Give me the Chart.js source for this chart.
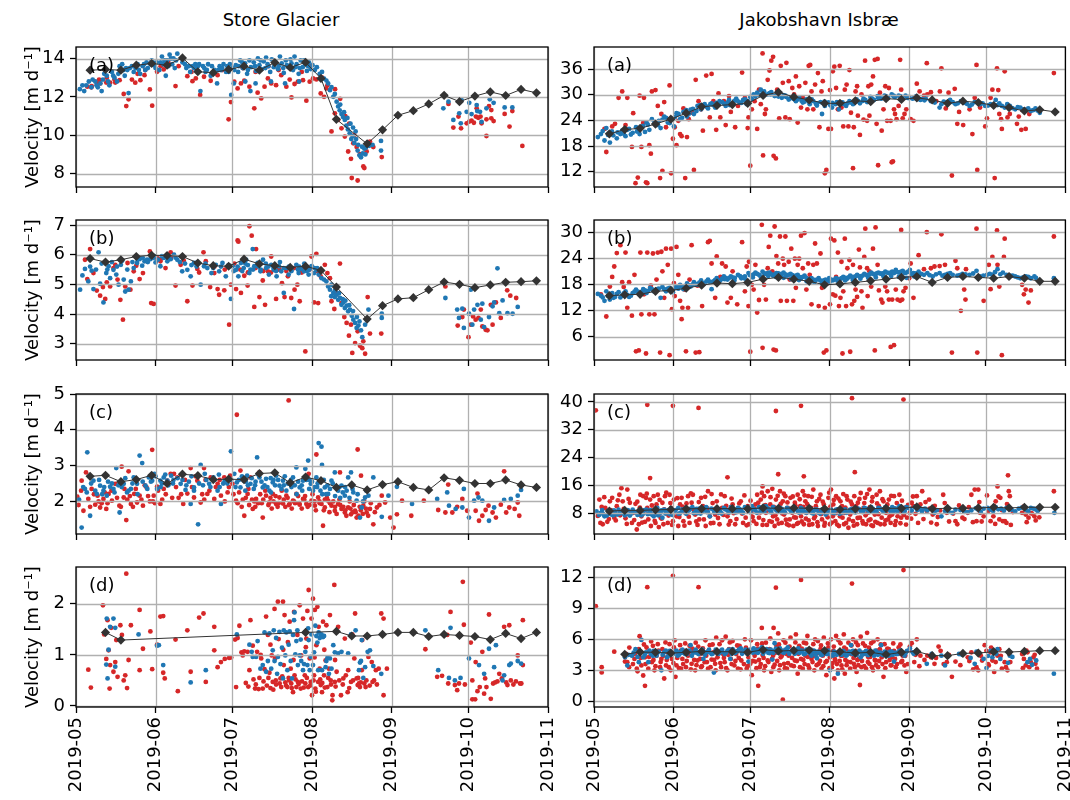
<!DOCTYPE html>
<html>
<head>
<meta charset="utf-8">
<script src="https://cdn.jsdelivr.net/npm/chart.js@4.4.1/dist/chart.umd.min.js"></script>
<style>
  body { margin: 0; background: #fff; width: 1070px; height: 800px; position: relative; overflow: hidden; font-family: "DejaVu Sans", sans-serif; }
  canvas { position: absolute; }
  .title { position: absolute; top: 9px; font-size: 18px; color: #000; transform: translateX(-50%); white-space: nowrap; }
</style>
</head>
<body>
<div class="title" style="left:281px">Store Glacier</div>
<div class="title" style="left:819px">Jakobshavn Isbræ</div>
<script>
// x axis: days since 2019-05-01
const monthTicks = [0, 31, 61, 92, 123, 153, 184];
const monthLabels = ['2019-05', '2019-06', '2019-07', '2019-08', '2019-09', '2019-10', '2019-11'];

// ---- Store Glacier ----
const storeMeanDaysA = [5.5,11.5,17.5,23.5,29.5,35.5,41.5,47.5,53.5,59.5,65.5,71.5,77.5,83.5,89.5,95.5,101.5,113.5,119.5,125.5,131.5,137.5,143.5,149.5,155.5,161.5,167.5,173.5,179.5];
const storeMeanA = [13.39,13.43,13.39,13.65,13.74,13.65,14.03,13.31,13.26,13.43,13.6,13.39,13.79,13.53,13.8,12.96,10.83,9.55,10.28,11.04,11.28,11.63,12.08,11.75,12.04,12.26,12.07,12.39,12.21];
const storeMeanB = [5.87,5.75,5.83,5.94,5.98,5.97,5.94,5.72,5.63,5.61,5.85,5.69,5.63,5.57,5.61,5.47,4.91,3.83,4.28,4.51,4.55,4.82,5.08,5.0,4.89,4.98,5.07,5.09,5.12];
const storeMeanDaysC = [5.5,11.5,17.5,23.5,29.5,35.5,41.5,47.5,53.5,59.5,65.5,71.5,77.5,83.5,89.5,95.5,101.5,107.5,113.5,119.5,125.5,131.5,137.5,143.5,149.5,155.5,161.5,167.5,173.5,179.5];
const storeMeanC = [2.70,2.73,2.55,2.61,2.73,2.50,2.76,2.72,2.61,2.62,2.61,2.78,2.80,2.52,2.68,2.58,2.39,2.46,2.32,2.47,2.55,2.39,2.32,2.66,2.59,2.50,2.50,2.60,2.46,2.39];
const storeMeanDaysD = [11.5,17.5,89.5,101.5,107.5,113.5,119.5,125.5,131.5,137.5,143.5,149.5,155.5,161.5,167.5,173.5,179.5];
const storeMeanD = [1.44,1.29,1.44,1.46,1.37,1.37,1.40,1.44,1.44,1.36,1.40,1.38,1.36,1.30,1.42,1.32,1.44];

const storeBlueA = [[1.5,12.4],[4,12.6],[5,12.8],[6,12.5],[7.5,12.8],[8.5,12.5],[9.5,12.7],[10,12.3],[11,13.2],[12,13.1],[13,12.6],[14,13.3],[15,13.0],[16,12.8],[17,13.6],[18,13.7],[19,13.1],[20,13.4],[20.5,12.2],[21,13.5],[22.5,13.3],[24,13.7],[25,13.2],[26,13.6],[27,13.4],[27.5,13.8],[29,13.7],[29.5,13.9],[30.5,13.65],[31.5,13.8],[32.5,13.4],[33.5,14.1],[34,13.7],[35,13.1],[35.5,13.9],[36.5,14.2],[37.5,13.7],[38,14.0],[38.5,13.5],[39.5,14.25],[42.5,13.7],[43,13.5],[44.5,13.3],[45.5,13.6],[46.5,13.7],[47,13.4],[48.5,12.3],[48,13.7],[49.5,13.6],[50.5,13.3],[51.5,13.7],[52.5,13.1],[54,13.4],[55,12.7],[56,13.6],[56.5,13.4],[57.5,13.7],[58.5,13.3],[60,13.7],[60.5,12.1],[61.5,12.7],[61.7,13.4],
  [2.5,12.6],[3.2,12.3],[6.5,12.9],[8,12.6],[10.5,12.9],[12.5,12.8],[14.5,13.1],[16.5,13.2],[18.5,13.4],[19.5,13.5],[21.8,13.6],[23.2,13.5],[24.5,13.4],[26.5,13.7],[28,13.5],[30,13.8],[31,13.5],[33,13.8],[34.5,13.9],[36,13.6],[37,14.0],[39,13.9],[41.5,13.8],[44,13.6],[46,13.5],[47.5,13.6],[50,13.5],[51,13.4],[53,13.6],[55.5,13.4],[57,13.5],[59,13.6],[59.5,13.3],[61,13.5],
  [62.3,13.65],[63.2,13.3],[64,13.9],[65,13.5],[65.9,13.75],[66.7,13.2],[67.6,13.9],[68.2,13.55],[69.3,13.8],[70.2,13.35],[70.9,14.0],[71.5,13.65],[72.4,13.45],[73.2,13.85],[74.1,14.05],[74.7,13.7],[75.7,13.3],[76.3,13.95],[77.1,13.55],[77.9,13.8],[78.7,13.45],[79.5,14.1],[80.2,13.75],[81,13.25],[81.8,13.9],[82.8,13.55],[83.6,13.95],[84.6,13.4],[85.2,14.1],[86,13.7],[86.8,13.2],[87.6,13.9],[88.4,13.55],[89.2,13.75],[90,13.35],[90.8,13.8],[91.5,13.45],[68,12.3],[70,12.7],[66,12.8],[76,12.8],[81.5,12.7],[87,12.8],
  [63.5,13.6],[64.8,13.8],[67,13.4],[69.8,13.6],[72,13.9],[73.8,13.5],[75,13.6],[77.5,13.75],[79,13.6],[80.8,13.5],[82.2,13.65],[84,13.75],[85.6,13.55],[87.2,13.5],[88.9,13.9],[90.5,13.6],
  [92.2,13.65],[93.1,13.4],[93.9,13.55],[95,13.2],[95.9,13.3],[96.7,12.95],[97.6,12.85],[98.3,12.7],[99,12.35],[99.6,12.5],[100.3,12.0],[100.9,12.15],
  [101.6,11.75],[102.2,11.5],[102.8,11.3],[103.5,11.1],[104.1,10.95],[104.8,10.8],[105.4,10.5],[106,10.3],[106.7,10.1],[107.3,9.8],[107.9,9.95],[108.5,9.6],[109.2,9.8],[109.8,9.2],[110.5,8.95],[111.1,8.85],[111.8,9.05],[112.4,9.3],[113,9.35],[113.6,9.6],[114.3,9.45],[115.6,9.5],[118.9,9.7],[118.9,9.2],
  [103,11.6],[104.5,11.2],[105.8,10.9],[107,10.6],[108,10.4],[109,10.2],[110,9.5],[111.5,9.4],[112.8,9.0],
  [143.2,11.4],[145.2,11.75],[147.1,10.8],[149.4,11.14],[150,10.62],[150.3,11.83],[152.3,11.22],[153.3,11.69],[154.2,11.1],[156.2,11.57],[156.4,11.26],[157.5,11.22],[158.1,10.7],[160,11.4],[161.3,11.87],[162.8,11.69],[167.1,11.45],[170.1,11.45]];

const storeRedA = [[4.4,12.53],[6.1,12.56],[8.1,12.74],[9.4,12.7],[11.8,12.75],[13.3,12.74],[15.3,12.75],[17,12.87],[18.6,12.15],[19.6,11.52],[20.5,11.87],[21.8,12.9],[23.1,12.74],[25.1,12.87],[26.7,13.13],[28.8,12.39],[29.7,11.54],[31.6,13.31],[34.2,13.43],[38.8,12.56],[43.4,13.08],[45.4,12.82],[46.7,12.96],[49.9,13.05],[48.4,12.1],[52.5,12.84],[55.2,13.13],[59.5,10.83],[60.4,11.73],[61.7,12.79],[63,12.44],[64.3,12.7],[65.6,12.84],[67.6,12.53],[69.5,11.4],[70.8,12.22],[72.2,11.92],[73.5,12.53],[74.8,12.96],[76.1,12.7],[78,12.61],[80,13.13],[82,12.53],[83.3,12.9],[85.2,12.67],[86.5,12.79],[88.5,12.87],[89.8,11.8],[91.1,12.79],[92.4,12.96],[93.7,12.91],[95.4,12.18],[96.7,12.0],[97.6,12.44],[99.6,10.2],[100.9,11.14],[102.2,10.8],[103.5,10.36],[104.8,9.93],[106.1,9.15],[107.2,8.77],[108.1,9.58],[109.4,9.38],[110.7,9.01],[112,8.37],[112.4,8.29],[113.3,9.15],[114.6,9.67],[115.9,9.38],[119.2,8.86],[107.5,7.77],[109.8,7.64],[84,11.97],
  [65,13.5],[70,13.3],[75,13.6],[79,13.4],[84,13.5],[88,13.3],[91,13.6],[96,13.0],[98,12.6],[101,12.4],[103,11.9],[105,11.0],[106.5,10.6],[108.5,10.0],[57,13.4],[53,13.2],[45,13.3],[40,13.6],[36,13.8],[33,13.6],[24,13.2],[27,13.4],[12,13.0],[15,12.9],[9,12.9],[6,12.5],
  [145.2,11.63],[147.1,10.4],[149.1,10.97],[150.1,10.36],[152.3,10.62],[153.3,10.71],[154.2,10.76],[155.1,10.65],[155.9,10.97],[156.2,11.4],[156.8,10.91],[157.7,10.97],[158.1,10.62],[160,9.96],[160,10.83],[161,11.52],[161.9,11.31],[161.9,10.88],[162.8,10.74],[167.1,11.11],[169,10.45],[170.1,11.26],[174,9.44]];

const storeBlueB = [[1.6,4.82],[3.5,5.52],[4.8,5.1],[6.1,5.46],[6.8,4.84],[8.8,6.08],[9.4,5.02],[10.7,4.39],[11.8,5.38],[12.7,5.61],[13.3,5.21],[14.6,5.49],[15.7,5.33],[16.6,4.99],[17.5,5.66],[18.6,5.16],[19.2,4.76],[20.5,4.82],[21.4,5.1],[22.5,5.55],[23.8,5.72],[24.8,5.85],[25.8,5.63],[26.7,5.78],[27.7,5.83],[29,5.85],[30.1,5.89],[31,5.74],[31.9,5.83],[32.9,5.61],[34.2,5.89],[35.6,5.78],[36.9,5.85],[38.2,6.0],[39.5,5.83],[41.4,5.44],[43.4,5.49],[44.7,5.27],[46,5.72],[47.3,5.74],[48.6,4.99],[49.9,5.61],[51.2,5.55],[52.8,5.38],[54.5,5.66],[55.8,5.44],[57.1,5.72],[58.4,5.27],[60.4,4.51],[61,5.61],[62.4,5.49],[63.3,5.27],[64.3,5.72],[65.4,5.55],[66.3,5.83],[67.6,5.38],[68.9,6.19],[69.5,5.61],[70.8,5.72],[71.9,5.44],[72.9,5.83],[74.1,5.55],[75.2,5.33],[76.1,5.66],[77.1,5.49],[78.2,5.27],[79.1,5.61],[80,5.44],[81,4.71],[82,5.55],[82.9,5.33],[83.9,5.47],[85,4.17],[85.9,5.66],[86.8,5.38],[87.8,5.52],[88.9,5.44],[89.8,5.55],[90.7,5.33],[91.8,5.61],[92.8,5.38],[93.7,5.49],[94.6,5.33],[95.7,5.21],[96.7,5.16],[97.6,5.1],[98.3,4.93],[99,4.82],[99.6,4.99],[100.3,4.71],[100.9,4.57],[101.6,4.65],[102.2,4.48],[102.9,4.54],[103.5,4.31],[104.2,4.39],[104.8,4.2],[105.5,4.28],[106.1,4.09],[106.8,4.15],[107.5,3.94],[108.1,3.81],[108.8,3.7],[109.4,3.53],[110.1,3.61],[111.1,3.45],[111.6,3.22],[112.7,3.64],[113.3,3.81],[114,4.15],[119.2,4.01],[119.2,3.87],
  [63,5.6],[66,5.7],[68,5.5],[71,5.6],[74,5.7],[77,5.55],[79.5,5.75],[83,5.6],[86.5,5.5],[89,5.7],[91,5.5],[93,5.55],[99.5,4.6],[101,4.8],[102.5,4.7],[104,4.5],[105,4.45],[106.5,4.3],[108,4.1],[109.5,3.9],[110.5,3.75],
  [2.5,5.3],[5.5,5.6],[7.8,5.5],[10,5.7],[12.2,5.5],[14,5.75],[16,5.6],[18,5.8],[20,5.5],[22,5.75],[24,5.85],[26,5.9],[28,5.75],[30.5,5.95],[33.5,5.95],[36,5.85],[38.8,5.9],[40.5,5.75],[42.5,5.7],[45,5.65],[47,5.6],[50.5,5.7],[53.5,5.55],[56.5,5.6],[59.5,5.65],[61.5,5.45],[64.8,5.45],[67,5.65],[69,5.5],[72,5.5],[75,5.6],[78,5.45],[81,5.55],[84,5.45],[87,5.6],[90,5.45],[92,5.6],[94,5.55],
  [144,4.54],[148.6,4.15],[149.3,3.87],[150.6,4.18],[151.2,3.53],[153.2,4.01],[153.9,4.82],[154.5,3.64],[155.2,4.15],[156.5,4.31],[157.8,3.81],[158.4,4.35],[159.1,3.56],[161,3.9],[162.4,4.26],[163,4.39],[164.3,5.54],[165,4.03],[166.3,4.46],[168.2,4.03],[170.2,4.01],[172.2,4.24]];

const storeRedB = [[3.5,5.83],[4.4,5.18],[5.5,6.19],[6.8,5.38],[8.1,4.79],[9.4,4.62],[10.5,4.91],[11.4,4.51],[12,5.07],[13.3,4.93],[14.6,5.55],[15.3,5.66],[16.2,5.16],[17.3,4.48],[18.3,3.81],[19.2,4.93],[20.1,5.72],[21.2,4.82],[22.5,5.44],[23.5,5.63],[24.8,5.18],[26.1,5.38],[27.7,5.78],[28.8,6.11],[29.3,4.37],[30.3,4.34],[31.6,5.89],[32.9,5.78],[34.9,5.55],[36.9,6.08],[38.8,4.96],[40.8,5.66],[43.4,4.43],[45.4,4.96],[47.3,5.52],[49.7,6.08],[50.6,5.78],[52.3,4.91],[53.9,5.38],[55.2,4.84],[55.8,4.65],[57.8,4.8],[59.7,3.64],[60.4,4.99],[61.7,5.7],[62.4,4.84],[63,6.48],[63.3,6.44],[64.3,4.71],[65.6,5.29],[66.9,4.96],[67.6,6.96],[68.5,6.64],[69.5,4.24],[70.2,6.19],[71.5,4.57],[72.8,5.13],[73.7,4.31],[74.8,5.44],[76.1,5.94],[78,4.51],[79.3,5.55],[80.3,5.04],[81.3,4.57],[82.6,5.27],[83.9,4.54],[85.2,4.82],[86.3,4.99],[87.2,4.43],[88.5,5.49],[89.4,2.74],[90.5,5.52],[91.8,5.94],[92.8,4.39],[93.7,6.03],[94.4,4.37],[95.4,5.27],[97,5.66],[98,5.38],[99,5.21],[99.6,4.43],[100.7,4.17],[101.6,4.71],[102.9,5.7],[103.5,4.37],[104.6,3.9],[105.5,3.7],[106.4,3.27],[107.2,3.64],[107.7,2.69],[108.8,3.02],[109.8,3.42],[110.7,2.93],[111.6,2.85],[112.7,2.66],[113.7,4.57],[114.6,3.34],[119,3.34],[112,3.08],
  [64,5.5],[67,5.4],[70,5.55],[73,5.45],[76,5.4],[79,5.5],[82,5.45],[85,5.55],[88,5.4],[91,5.5],[94,5.45],[58,5.5],[54,5.6],[48,5.4],[42,5.8],[37,5.9],[33,5.85],
  [144,4.93],[148.8,3.61],[150.6,3.9],[151.2,4.15],[153,3.22],[153.9,3.64],[154.8,3.92],[155.8,3.81],[156.9,3.87],[157.8,4.15],[158.4,3.58],[159.7,3.47],[160.4,3.45],[161.7,4.31],[162.4,3.64],[163.7,4.39],[165.6,3.87],[169.3,4.62],[171.6,4.54],[168.1,4.8]];

const storeBlueC = [[2.2,1.27],[4.4,3.37],[3.5,2.35],[5.5,1.6],[6.8,2.58],[8.1,2.21],[9.4,2.44],[10.7,2.3],[12,2.16],[13.3,2.41],[14.6,2.35],[15.7,2.93],[17,1.69],[18.6,2.49],[19.9,2.25],[21.4,2.35],[22.5,2.67],[23.8,2.49],[24.8,3.28],[25.8,3.07],[27.1,2.44],[28.4,2.67],[29.7,2.58],[30.6,2.77],[31.6,2.35],[32.9,2.58],[34.2,2.67],[35.6,2.58],[37.1,2.72],[40.8,2.49],[42.7,2.32],[44.7,1.93],[46,2.39],[47.6,1.36],[48.6,3.02],[50.2,2.77],[51.9,2.49],[53.6,2.67],[55.2,2.3],[56.5,1.93],[58,2.58],[60.4,3.4],[61.7,2.77],[62.7,2.53],[64.1,2.39],[65.4,2.58],[66.7,2.72],[68,2.49],[69.3,2.35],[70.6,3.23],[71.5,2.67],[72.8,2.39],[74.1,2.63],[75.4,2.3],[76.7,2.53],[78,2.72],[79.3,2.44],[80.7,2.58],[82,2.3],[83.3,2.49],[84.6,2.67],[85.9,2.95],[87.2,2.39],[88.5,2.58],[89.4,2.91],[90.5,3.14],[91.5,2.49],[92.4,2.3],[93.7,2.67],[94.6,3.63],[95.7,3.53],[95.9,3.02],[97,2.39],[98.3,2.21],[99.6,2.58],[100.9,2.81],[102.2,2.3],[103.5,2.44],[104.8,2.16],[106.1,2.67],[107.2,2.81],[108.1,2.25],[109.4,2.02],[110.7,1.55],[111.4,1.83],[112.7,2.11],[114,2.16],[115.9,2.67],[119.2,1.57],[121.8,2.16],[125.1,2.41],[131,1.93],[140.8,2.07],[144.7,2.25],[145.4,1.88],[148,1.79],[150.6,1.83],[151.2,2.35],[153.2,1.55],[155.2,2.02],[156.9,2.11],[158.4,2.02],[161,1.46],[163,1.83],[166.9,2.04],[169.5,2.07],[172.2,2.16],[173.5,2.32],
  [7.5,2.3],[11,2.4],[16.5,2.45],[20.5,2.3],[26,2.55],[33.5,2.5],[38,2.6],[44,2.55],[49.5,2.45],[54,2.6],[59,2.5],[63.5,2.6],[67,2.45],[70,2.55],[73.5,2.45],[77,2.6],[81,2.45],[84,2.4],[88,2.45],[91,2.6],[94,2.4],[98,2.45],[101.5,2.4],[105.5,2.3],[103,2.1],[96,2.2],[86,2.2],[76,2.25],[66,2.3],[56,2.4],[46,2.3],[36,2.45],[14,2.5],
  [1.2,2.05],[2.8,2.4],[4.2,2.25],[5.9,2.5],[9,2.6],[10.2,2.2],[12.5,2.55],[15,2.25],[17.8,2.4],[19.2,2.65],[22,2.5],[24,2.2],[27.8,2.35],[29.2,2.55],[31,2.7],[33,2.4],[34.8,2.75],[37.8,2.5],[39.6,2.65],[41.5,2.6],[43,2.45],[45,2.7],[48,2.5],[50.8,2.6],[52.4,2.4],[55.7,2.75],[57.4,2.5],[60.5,2.6],[62.2,2.4],[64.7,2.7],[66.2,2.55],[68.5,2.65],[69.8,2.45],[71,2.75],[72.3,2.55],[74.6,2.4],[75.9,2.65],[77.6,2.45],[78.8,2.6],[80.1,2.35],[81.4,2.7],[82.6,2.5],[83.8,2.6],[85.3,2.45],[86.6,2.55],[88.2,2.3],[89.8,2.6],[90.9,2.35],[92,2.55],[93,2.4],[94.2,2.5],[95.3,2.3],[96.6,2.6],[97.5,2.2],[99,2.35],[100.1,2.5],[101,2.15],[102.7,2.4],[104,2.25],[104.9,2.4],[106.6,2.1],[107.8,2.35],[109.8,2.2],[111.9,2.0],[113.2,2.3]];

const storeRedC = [[0.5,2.13],[2.2,2.58],[2.9,1.74],[3.9,2.81],[4.8,2.07],[6.1,2.35],[7.5,1.91],[8.4,2.16],[9.4,1.83],[10.7,2.07],[11.8,1.79],[12.7,2.21],[14,2.02],[15.3,2.49],[16.9,1.88],[17.8,2.97],[18.6,2.11],[19.6,1.48],[20.5,2.84],[21.4,1.93],[22.7,2.21],[23.8,1.97],[24.8,2.16],[26.1,1.88],[27.5,2.39],[28.8,2],[29.7,3.44],[30.3,2.16],[31.6,2.41],[32.9,1.93],[34.2,2.35],[35.6,2.58],[36.9,2.77],[38.2,2.77],[39.5,2.67],[41.8,1.93],[43.4,2.22],[44.7,2.93],[46,2.11],[47.3,2.58],[48.6,1.97],[49.9,2.93],[51.2,2.21],[52.5,2.67],[53.9,2.07],[55.2,2.49],[56.5,2.16],[57.8,2.67],[59.1,2.25],[60.1,2.72],[61,2.49],[62.7,4.42],[62.4,2.02],[64.1,2.86],[65.6,1.6],[66.9,2.21],[68,2.67],[68.9,1.79],[70.2,2.07],[71.5,2.81],[72.8,1.55],[74.1,2.16],[75.4,1.97],[76.7,2.21],[78,1.93],[79.3,2.11],[80.7,1.94],[82,2.16],[82.9,4.82],[83.3,1.93],[84.6,2.02],[85.9,2.21],[87.2,1.91],[88.5,2.07],[89.8,1.93],[90.7,2.77],[91.8,2.02],[93.1,1.88],[93.7,3.31],[94.4,2.11],[95.7,1.93],[96.3,1.32],[97,1.83],[98.3,2.02],[99.6,1.88],[100.9,1.74],[102.2,1.93],[102.9,2.81],[103.5,1.79],[104.8,1.69],[106.1,1.83],[107.2,1.64],[108.8,1.74],[109.8,3.45],[110.1,1.6],[111.1,2.72],[112,1.88],[113.3,1.69],[114.6,1.79],[115.9,1.36],[117.3,1.83],[119.2,2.16],[120.5,1.97],[122.5,1.55],[123.8,1.27],[125.1,1.64],[127.1,2.02],[130.7,1.6],[135.6,2.02],[141.2,1.76],[144,1.69],[145.1,2.47],[146.7,1.69],[148.6,1.85],[150.6,2.07],[152.5,1.74],[155.8,1.74],[156.5,2.22],[157.1,1.46],[158.4,1.6],[159.7,1.76],[160.8,1.88],[162.4,1.69],[163.7,1.55],[165.6,1.91],[166.9,2.84],[167.7,1.69],[168.9,1.83],[171,1.79],[172.2,1.97],[172.8,1.6],
  [63,1.95],[65,2.05],[67.5,1.9],[69.5,2.0],[71,1.95],[73,2.05],[75,1.9],[77,2.0],[79,1.95],[81,2.05],[83,1.9],[85,2.0],[87,1.95],[89,2.05],[91,1.9],[93,2.0],[95,1.95],[97,2.05],[99,1.95],[101,1.85],[103,1.9],[105,1.75],[107,1.8],[109,1.7],[111,1.75],[113,1.8],[10,1.95],[20,2.05],[30,2.0],[40,2.1],[50,2.05],[58,2.0],
  [1,1.9],[2,2.3],[5.5,1.85],[7,2.2],[8.8,2.0],[11.2,2.25],[12.3,1.95],[13.8,2.3],[16,2.1],[17.5,1.85],[18.9,2.35],[21,2.15],[22.2,1.85],[23.3,2.35],[25.5,2.05],[26.8,2.45],[28.1,2.15],[30.8,1.95],[32,2.3],[33.6,2.05],[35,2.2],[37.5,2.1],[39,2.4],[41,2.2],[42.5,2.6],[45.2,2.4],[46.6,2.7],[49.2,2.2],[50.5,2.6],[52,2.3],[54.5,2.4],[56,2.6],[59.6,2.4],[61.4,2.2],[63.6,2.25],[64.6,1.85],[66.2,2.1],[67.2,2.35],[68.6,2.05],[69.9,1.85],[71.8,2.2],[72.4,1.95],[73.8,2.3],[75.8,2.1],[76.3,1.8],[77.8,2.15],[78.6,1.85],[80.2,2.3],[81.6,1.85],[82.5,2.1],[84.1,1.8],[85.4,1.95],[86.6,2.15],[88,1.8],[89.3,2.15],[90.3,1.85],[92.2,2.2],[93.5,1.75],[94.9,2.0],[96.6,1.75],[97.8,2.1],[98.8,1.7],[100.3,2.0],[101.6,1.65],[102.7,2.05],[104.2,1.85],[105.4,1.6],[106.7,2.0],[107.8,1.7],[108.3,1.9],[109.4,1.55],[110.6,1.85],[111.8,1.65],[112.4,2.0],[113.9,1.6],[114.9,1.95],[116.5,1.7],[118.3,1.9]];

const storeBlueD = [[11.8,0.81],[12,1.71],[12.7,1.1],[12.3,0.54],[13.3,1.55],[14.6,1.71],[15.3,0.77],[15.3,1.53],[24.4,1.4],[31.6,1.18],[32.3,1.19],[34,0.8],[44.7,0.46],[50.6,0.7],[62.7,1.4],[67.6,1.2],[68.5,1.06],[68.9,0.96],[70.2,0.96],[70.8,1.27],[71.9,0.73],[72.8,0.8],[73.5,1.44],[74.1,0.67],[74.8,0.88],[75.4,1.42],[76.1,0.73],[76.7,1.09],[77.1,1.48],[77.4,0.88],[78,1.33],[78.4,0.63],[78.7,0.96],[79.3,1.45],[79.7,0.82],[80.3,1.14],[80.7,0.54],[81,1.48],[81.6,0.99],[82,1.44],[82.4,0.7],[82.9,1.2],[83.3,1.46],[83.7,0.88],[84.2,0.54],[84.6,1.39],[85,1.68],[85.2,1.83],[85.5,1.01],[85.9,1.27],[86.3,1.48],[86.5,0.8],[87.2,0.99],[87.6,1.3],[87.8,0.88],[88.5,0.7],[88.9,0.82],[89.2,1.44],[89.4,1.06],[90.2,0.8],[90.5,1.52],[90.7,1.29],[91.1,0.7],[91.5,0.96],[91.8,1.4],[92.4,0.8],[92.8,1.05],[93.3,1.57],[93.7,1.37],[94.1,1.24],[94.4,0.7],[94.6,1.44],[95,1.33],[95.4,1.39],[95.7,1.4],[95.9,0.7],[96.3,1.35],[96.7,1.37],[97.3,0.76],[97.6,0.88],[98,0.94],[98.6,0.63],[99,0.93],[99.6,0.73],[100.3,1.19],[100.9,1.05],[102.2,1.03],[103.5,1.06],[106.1,1.03],[107.2,1.4],[109,1.48],[110.3,0.7],[110.7,0.85],[111.1,0.88],[111.4,1.29],[112,0.55],[112.7,0.76],[113.7,1.06],[114.6,1.09],[115.9,0.78],[119,0.63],[136.2,1.48],[141.2,0.7],[145.4,0.55],[146,1.53],[147.7,0.5],[149.9,0.55],[153.2,0.93],[157.1,0.8],[159.1,0.63],[161,1.12],[163,0.76],[163.7,1.19],[166.3,0.5],[166.9,0.6],[168.9,0.8],[169.5,0.83],[172.2,0.88],[173.5,0.83]];

const storeRedD = [[4.8,0.71],[5.8,0.36],[10.5,1.97],[11,1.40],[11.8,0.92],[12.3,1.68],[12.7,1.09],[13.1,0.34],[13.3,0.8],[13.7,1.53],[14.6,0.67],[15.3,0.86],[15.7,1.29],[16.2,0.57],[17.3,1.58],[17.9,1.39],[18.6,0.5],[19.2,0.6],[19.6,2.59],[19.9,0.35],[20.5,0.9],[21.4,1.58],[24.8,0.7],[24.8,1.88],[26.1,1.12],[29,1.46],[29.7,0.72],[31.6,1.2],[32.9,1.75],[34,0.65],[34.6,0.54],[34,1.76],[38.8,1.3],[39.7,0.29],[43.4,1.48],[44.7,0.67],[48,1.73],[49.7,1.81],[50.6,0.47],[53.9,1.09],[53.9,1.55],[55.2,0.76],[56.5,0.86],[58,0.92],[59.7,0.94],[62.4,0.37],[63,1.33],[63.7,1.57],[65,0.99],[65.6,1.07],[66.9,1.06],[67.6,0.7],[68,1.68],[68.9,1.18],[69.8,0.34],[70.6,1.06],[71.5,0.55],[72.2,0.93],[72.8,0.34],[73.5,0.72],[74.1,1.75],[74.8,1.39],[75.4,0.65],[75.8,0.35],[76.3,0.99],[76.7,0.47],[77.4,1.9],[77.6,0.93],[78,0.42],[78.7,2.04],[79,1.31],[79.7,0.54],[80,0.37],[80.7,2.04],[81,0.8],[81.3,1.78],[81.6,0.46],[82.4,0.37],[82.6,1.25],[82.9,0.55],[83.3,1.65],[83.7,0.73],[83.9,0.44],[84.6,0.27],[85,1.84],[85.2,0.6],[85.9,0.37],[86.3,1.39],[86.5,0.47],[87.2,1.97],[87.6,0.34],[87.8,0.99],[88.5,1.71],[89.2,0.6],[89.4,0.44],[89.8,1.32],[90.2,1.86],[90.5,0.37],[90.7,2.27],[91.1,0.93],[91.5,0.47],[91.8,1.71],[92,0.21],[92.4,2.1],[92.8,0.6],[93.1,1.88],[93.3,0.34],[93.7,1.19],[94.1,1.94],[94.4,0.47],[94.6,1.55],[95,0.73],[95.4,0.41],[95.9,0.27],[96.3,1.65],[96.7,0.6],[97.3,0.89],[97.6,1.58],[98,0.37],[98.6,0.73],[99,1.78],[99.3,0.5],[99.9,0.11],[100,0.21],[100.7,2.37],[100.9,0.47],[101.6,0.67],[102.2,1.55],[103.3,0.21],[104.2,0.54],[104.8,1.32],[105.9,0.27],[106.1,0.7],[107.2,0.47],[107.7,1.4],[108.5,0.93],[108.8,1.81],[109.4,0.54],[109.8,0.41],[110.3,0.44],[110.7,0.37],[111.4,0.7],[111.6,1.29],[112.4,0.44],[112.9,0.37],[114,0.96],[115.3,0.86],[115.6,0.47],[116.9,0.7],[118,0.73],[119,1.81],[119.9,1.71],[119.9,0.21],[121.2,0.73],[136.2,1.11],[140.8,0.57],[142.7,0.59],[144.7,1.39],[145.1,0.44],[146,1.84],[147.7,0.41],[148.6,0.31],[149.3,0.44],[150.8,2.43],[151.2,1.59],[151.6,0.42],[153.9,1.24],[154.5,0.5],[154.5,0.13],[155.6,0.13],[155.8,0.86],[156.5,0.29],[157.4,0.37],[158.4,1.06],[159.1,0.24],[159.5,0.54],[160,0.37],[161,1.79],[161.7,0.14],[162.6,0.44],[163.4,0.46],[164.3,0.48],[165,0.63],[166,0.54],[166.9,1.55],[167.7,0.46],[168.2,0.41],[168.9,1.58],[169.5,0.5],[170.5,0.42],[171.5,0.48],[172.2,0.99],[173.1,0.44],[174.2,1.68],[174.2,0.8],[173.6,0.44],
  [66.2,0.45],[67.2,0.38],[69.2,0.52],[70.1,0.42],[71.2,0.33],[73.1,0.48],[74.4,0.4],[75,0.55],[76.9,0.32],[77.9,0.5],[79.4,0.44],[80.4,0.58],[81.9,0.4],[83.1,0.5],[84.1,0.35],[85.6,0.52],[86.8,0.43],[88.1,0.48],[88.8,0.36],[90,0.55],[91.3,0.4],[92.6,0.5],[93.5,0.28],[95.2,0.52],[96,0.45],[97,0.36],[98.3,0.55],[99.4,0.42],[101.2,0.38],[102.6,0.5],[104,0.42],[105.2,0.6],[106.5,0.35],[108,0.5],[110,0.55],[111,0.46],[113.2,0.5],[114.5,0.4],[116.2,0.5],[117.3,0.42],[72,1.0],[75.8,1.2],[80.8,1.1],[84.8,0.9],[89.6,1.15],[93,0.95],[96.8,1.1],[101,0.9],[64.5,1.05],[62,1.3],[60.5,0.95]];

// ---- Jakobshavn Isbrae ----
const jakMeanDays = [6,12,18,24,30,36,42,48,54,60,66,72,78,84,90,96,102,108,114,120,126,132,138,144,150,156,162,168,174,180];
const jakMeanA = [20.85,21.85,22.15,23.15,24.3,25.7,27.2,27.5,27.7,28.0,29.85,30.6,29.5,28.8,28.0,28.0,28.6,28.4,29.1,28.9,29.3,28.8,28.0,28.5,28.2,27.5,27.0,26.2,26.5,26.0];
const jakMeanB = [15.4,15.6,15.7,16.4,16.6,17.1,17.8,18.3,18.15,18.45,19.2,19.6,19.2,18.7,17.9,18.1,18.45,18.8,19.2,19.6,19.8,18.45,19.6,19.8,19.6,19.4,19.8,19.4,18.7,18.7];
const jakMeanC = [8.6,8.8,8.8,8.95,9.05,9.25,9.3,9.3,9.3,9.25,9.5,9.4,9.5,9.4,9.25,9.05,9.25,9.3,9.4,9.4,9.8,9.3,9.4,9.4,9.5,9.7,9.5,9.7,9.7,9.7];
const jakMeanDaysD = [12,18,24,30,36,42,48,54,60,66,72,78,84,90,96,102,108,114,120,126,132,138,144,150,156,162,168,174,180];
const jakMeanD = [4.55,4.77,4.74,4.67,4.74,4.83,4.8,4.8,4.74,4.99,4.86,4.93,4.96,4.9,4.8,4.67,4.74,4.52,4.74,4.83,4.42,4.42,4.64,4.67,4.8,4.77,4.83,4.9,4.9];

const jakBlueA = [[2.7,20.8],[4.1,19.3],[4.8,22.2],[6.2,18.8],[7.5,20.5],[8.9,19.8],[10.3,20.8],[11,21.6],[12.3,20.3],[13.7,22],[15.1,21.1],[16.4,22.4],[17.8,20.8],[19.2,22.7],[20.5,23.5],[21.6,21.8],[22.6,24.3],[24,22.9],[25.3,23.9],[26,22.2],[27.4,24.9],[28.8,23.5],[30.1,24.5],[31.2,22.6],[32.2,25.7],[33.6,24.3],[34.9,26],[36.3,24.9],[37.7,26.5],[39,25.5],[40.4,27.4],[41.8,26.6],[43.2,27.8],[44.5,26.8],[45.9,28],[47.3,27],[48.6,27.8],[50,28.3],[51.4,27.4],[52.7,28.8],[54.1,28],[55.5,29.1],[56.8,28.2],[58.2,28.8],[59.6,27.8],[61,29.5],[62.3,30.1],[63.7,30.5],[65.1,31.2],[66.4,30.8],[67.8,30.1],[69.2,30.6],[70.5,29.7],[71.9,30.3],[73.3,29.3],[74.7,29.8],[76,28.9],[77.4,29.5],[78.8,28.5],[80.1,29.3],[81.5,28.2],[82.9,28.9],[84.2,27.8],[85.6,28.5],[87,27.5],[88.4,28.3],[89,25.5],[90.1,27.4],[91.5,28.2],[92.9,27],[94.2,27.8],[95.6,26.6],[97,28.2],[98.4,27.4],[99.7,28.5],[101.1,27.8],[102.5,28.9],[103.8,28],[105.2,29.1],[106.6,28.3],[107.9,29.5],[109.3,28.8],[110.7,29.7],[112.1,29.1],[113.4,29.8],[114.8,29.3],[116.2,30.1],[117.5,29.5],[118.9,29.8],[120.3,29.3],[121.6,29.8],[123,29.5],[124.4,29.1],[125.8,29.7],[127.4,28.8],[129.5,29.1],[131.5,28.5],[134.9,27],[135.6,27.8],[137.7,28.2],[139,28.8],[141.1,27.8],[143.2,28.5],[144.5,28.2],[146.6,27.4],[148.6,28.3],[150.7,27.8],[152.7,27.4],[154.8,27.8],[156.8,28.8],[158.2,28],[160.3,27],[162.3,27.4],[164.4,26.6],[166.4,27],[168.5,26.5],[170.5,26.2],[172.3,26.8],[174,25.8],
  [42.5,27.5],[46.5,27.6],[49,28.5],[53,27.6],[56,28.6],[60,28.5],[63,29.6],[66,30.2],[69,30.1],[72,29.6],[75,29.5],[78,29.0],[81,28.6],[84,28.3],[87,28.0],[90,28.4],[93,28.1],[96,27.9],[99,28.0],[102,28.4],[105,28.6],[108,28.9],[111,29.2],[114,29.4],[117,29.6],[120,29.5],[123,29.2],[126,29.0],[129,28.7],
  [1.5,20.1],[3.4,21.5],[5.5,20.6],[7,21.4],[9.2,21.2],[11.6,20.9],[13,21.8],[14.4,20.7],[16.8,21.4],[18.5,22.4],[19.9,21.3],[21,23.0],[23.6,23.6],[25,22.9],[26.7,24.2],[28.1,24.6],[29.6,23.4],[31.6,24.8],[33,25.5],[34.4,24.6],[36,26.4],[37.2,25.6],[38.6,26.7],[40,26.2],[41.3,27.6],[44,27.2],[45.4,27.8],[47.8,28.1],[50.8,27.9],[52.2,28.2],[54.8,28.6],[57.5,28.1],[59,28.9],[61.6,29.0],[64.4,30.0],[65.8,30.4],[68.5,30.4],[71.2,29.9],[74,29.9],[76.7,29.2],[79.4,28.9],[82.2,28.4],[85,28.9],[86.6,27.9],[89.5,28.0],[92.2,27.6],[94.8,28.3],[97.6,27.8],[100.4,28.2],[103.2,28.5],[105.9,28.8],[108.6,29.1],[111.4,29.4],[114.1,29.6],[116.9,29.8],[119.6,29.6],[122.3,29.3],[125,29.3],[128,29.0],[133,28.2],[136.5,28.4],[140,28.3],[142,28.0],[145.5,27.9],[147.5,27.7],[151.7,28.0],[153.8,27.5],[157.5,27.6],[159.2,27.4],[161.3,27.8],[163.3,26.9],[165.4,27.1],[167.4,26.6],[169.5,26.8],[171.4,26.4],[173.1,26.3]];

const jakRedA = [[4.8,16.6],[4.1,22],[7.1,22.6],[8.2,23.2],[9.6,29.3],[11,30.8],[12.3,22.9],[13,29.3],[14.8,17.8],[15.3,25.7],[16.2,9.3],[17.1,10.6],[17.8,29.8],[18.5,17.8],[19.2,23.4],[19.5,29.3],[20.3,9.5],[20.8,9.3],[21.6,18.2],[22.2,16.2],[22.6,30.8],[24,31.1],[24.9,27.4],[25.8,10.5],[26.3,25.5],[26.7,12.2],[27.4,28.3],[28.1,22.4],[28.8,24.3],[29.5,32.2],[30.1,11.6],[30.8,19.7],[31.5,22.4],[32.2,18.2],[32.9,23.9],[33.6,20.8],[34.2,20.3],[34.9,26.8],[35.6,10.5],[36.3,20.1],[37,24.3],[38.4,25.8],[39,12.4],[39.7,33.5],[40.8,28.5],[41.8,26.6],[42.5,21.6],[43.8,34.5],[45.2,24.7],[45.9,34.9],[46.6,28.5],[47.7,21.8],[48.6,30.3],[49.3,24.7],[50.7,28.5],[51.4,22.9],[52.7,29.7],[53.4,26],[55.1,22.4],[56.2,27.4],[57.8,35.2],[58.9,29.3],[60,22.2],[60.3,24.7],[61,13.4],[61.6,26.6],[62.7,28.5],[63.7,22],[64.4,31.2],[65.1,27.8],[65.8,39.7],[66,15.8],[66.7,25.5],[67.1,26.6],[67.8,33.5],[68.5,35.7],[69.2,38],[69.9,38.9],[70.1,15.7],[71,15.1],[71.5,31.2],[72.3,24.5],[72.9,36.8],[73.7,32.8],[74.7,24.7],[75.1,37.5],[76,33.2],[76.4,24.3],[77.4,31.6],[78.1,30.1],[78.8,34.3],[79.5,23.5],[80.1,32],[80.8,27],[81.5,29.3],[82.5,32.8],[83.3,26.6],[83.8,36.8],[84.4,37],[84.9,30.8],[85.6,26.6],[86.3,32.4],[87.4,35.1],[88,22.4],[88.8,30.8],[89.3,33.2],[90.1,11.6],[90.7,12.4],[91.5,22],[92.1,31.1],[92.5,22],[93.2,35.5],[93.8,36.6],[94.5,31.6],[95.2,26.6],[95.9,36.8],[96.6,27],[97.3,22.6],[97.9,31.2],[98.6,32.4],[99.3,22.6],[99.7,35.8],[100.3,25.8],[101.1,12.8],[101.4,22.4],[102.1,30.8],[102.7,32],[103,25.1],[103.8,20.6],[104.4,30.1],[105.2,24.2],[105.8,38],[106.6,23.9],[107.1,32],[107.5,25.1],[108.2,32.4],[108.9,34.3],[109.6,38.2],[110.3,23.2],[110.7,38.4],[110.9,13.5],[111.6,30.5],[112.3,21.6],[113,26.6],[113.7,32],[114.4,23.9],[115.1,31.6],[115.8,23.9],[116.2,14.2],[116.7,14.4],[117.1,26.6],[117.5,25.5],[118.1,24.3],[118.9,27.4],[119.5,38.2],[119.9,31.2],[120.5,24.5],[121.2,25.5],[121.9,26.6],[123.6,24.3],[124.7,23.9],[126,32.6],[127.1,30.8],[128.8,29.8],[129.9,37.4],[130.1,30.1],[131.5,30.6],[133.6,28.5],[135,30.8],[135.6,36.2],[137.3,26.8],[138.4,30.5],[139.7,11.1],[140.8,31.4],[141.8,23.2],[142.5,26],[144.1,22.9],[146.6,26.6],[147.7,20.8],[148.6,29.3],[149.3,37],[149.6,12.4],[150.7,27],[152.7,22.6],[153.4,24.5],[154.8,29.3],[155.5,31.2],[156.4,10.5],[157.3,36.2],[157.8,31.1],[158.2,25.5],[158.9,24.3],[159.2,22],[160.3,35.5],[161.4,24.7],[162.3,25.5],[165.1,23.2],[165.8,24.9],[166.8,21.8],[167.1,26.5],[168.5,22],[169.9,25.5],[179.5,35.1]];

const jakBlueB = [[2.7,15.4],[4.1,14.2],[4.8,16.4],[6.2,14.5],[7.1,16],[8.2,15.1],[9.6,16.2],[11,15.4],[12.3,16.4],[13.7,15.1],[15.1,16],[16.4,16.8],[17.8,15.7],[19.2,16.9],[20.5,16],[21.9,17.2],[23.3,16.4],[24.7,16.9],[26,14.9],[26.7,17.4],[28.1,16.4],[29.5,17.2],[30.8,16.2],[32.2,17.5],[33.6,17.9],[34.9,16.9],[36.3,18.2],[37.7,17.5],[39,18.5],[40.4,17.9],[41.8,18.9],[43.2,18.3],[44.5,19.1],[45.9,16.9],[46.6,18.7],[47.9,19.4],[49.3,18.9],[50.7,19.8],[52.1,19.1],[53.4,19.8],[54.8,18.9],[56.2,20.2],[57.5,19.4],[58.9,19.8],[60.3,20.6],[61.6,20],[63,20.7],[64.4,20.2],[65.8,20.9],[67.1,20.4],[68.5,20.7],[69.9,20],[71.2,20.6],[72.6,20.2],[74,20.7],[75.3,20],[76.7,20.4],[78.1,19.8],[79.5,20.2],[80.8,19.4],[82.2,20],[83.6,19.1],[84.9,19.4],[86.3,18.9],[87.7,19.4],[89,18.7],[90.4,19.1],[91.8,19.4],[93.2,18.9],[94.5,19.4],[95.9,19.1],[97.3,19.7],[98.6,19.2],[100,20],[101.4,19.4],[102.7,20.2],[104.1,19.8],[105.5,20.4],[106.8,20],[108.2,20.7],[109.6,20.2],[111,20.7],[112.3,20.4],[113.7,20.9],[115.1,20.6],[116.4,20.9],[117.8,21.3],[119.2,20.7],[120.5,21.1],[121.9,20.7],[123.3,21.3],[124.7,20.6],[126.7,20.9],[128.8,20.2],[130.1,20.6],[132.2,19.8],[134.9,20.6],[137,20.2],[139,20.6],[141.8,20],[143.8,20.4],[146.6,20.2],[149.3,21.1],[150.7,19.8],[153.4,20.2],[155.5,20.2],[157.5,21.5],[159.6,20.7],[162.3,20],[164.4,19.8],[166.4,19.4],[168.5,19.8],[170.5,19.4],[171.9,19.8],[179.5,19.4],
  [42,18.4],[45,18.6],[48,18.8],[51,19.2],[55,19.5],[59,19.3],[62,19.6],[65,19.8],[68,19.9],[71,19.7],[74,19.5],[77,19.2],[80,19.0],[83,18.7],[86,18.5],[89,18.2],[92,18.6],[95,18.8],[98,18.9],[101,19.0],[104,19.3],[107,19.5],[110,19.6],[113,19.8],[116,19.9],[119,19.7],[122,19.5],[125,19.8],
  [1.5,15.8],[3.4,15.0],[5.5,15.3],[7.6,14.9],[8.9,15.8],[10.3,15.0],[11.6,15.9],[13,15.6],[14.4,15.4],[15.8,16.3],[17.1,16.3],[18.5,16.2],[19.9,16.6],[21.2,16.5],[22.6,16.9],[24,16.6],[25.3,17.0],[27.4,16.9],[28.8,17.0],[30.2,16.8],[31.5,17.2],[32.9,17.0],[34.3,17.5],[35.6,17.6],[37,17.8],[38.4,17.9],[39.7,18.1],[41.1,18.4],[43.9,18.7],[46.2,18.5],[47.3,19.0],[50,19.3],[51.4,19.5],[52.8,19.5],[54.1,19.6],[57,19.9],[58.2,19.6],[60.9,20.1],[62.3,20.3],[63.7,20.4],[66.5,20.5],[67.8,20.6],[69.2,20.3],[70.6,20.3],[72,20.5],[73.3,20.4],[74.7,20.3],[76,20.2],[77.4,20.1],[78.8,20.0],[80.1,19.7],[81.5,19.7],[82.9,19.5],[84.2,19.2],[85.6,19.1],[87,19.1],[88.3,18.9],[89.7,18.9],[91.1,18.9],[92.5,19.1],[93.8,19.1],[95.2,19.2],[96.6,19.4],[98,19.5],[99.3,19.6],[100.7,19.7],[102,19.8],[103.4,19.9],[104.8,20.0],[106.2,20.2],[107.5,20.3],[108.9,20.4],[110.3,20.5],[111.7,20.5],[113,20.6],[114.4,20.7],[115.8,20.7],[117.1,20.6],[118.5,20.8],[119.9,20.9],[121.3,20.6],[122.6,20.9],[124,20.4],[125.7,20.5],[127.7,20.4],[131,20.1],[133.5,20.3],[136,20.0],[138,20.4],[140,20.2],[142.8,20.1],[145,20.3],[148,20.5],[152,20.0],[154.5,20.4],[156.5,20.8],[158.6,20.3],[161,20.2],[163.4,20.0],[165.4,19.6],[167.5,19.6],[169.5,19.7],[172.5,19.5]];

const jakRedB = [[2.7,15.7],[4.8,10.6],[6.2,17.5],[7.1,19.7],[7.9,22.1],[8.9,25.2],[10.3,27],[11,18.5],[11.6,17.4],[12.3,25.3],[13,12.6],[13.7,18.5],[14.8,10.8],[15.8,20.2],[16.4,2.6],[17.5,2.8],[18.1,25.3],[18.5,11.1],[19.5,15.7],[20.3,2.1],[20.8,25.3],[21.6,11.1],[22.2,17.7],[23,25.1],[23.6,11.1],[24.4,19.1],[24.9,25.3],[25.8,2.3],[26.3,25.5],[26.7,21],[27.4,14.9],[28.1,26.2],[28.8,22.5],[29.5,1.7],[30.1,26.2],[30.4,12.3],[31.2,18.3],[31.5,15.3],[32.2,26.6],[32.9,20.2],[33.6,14.2],[34.2,10],[34.5,12.6],[35.3,16.8],[35.9,2.6],[36.7,12.6],[37.3,19.1],[38.1,27],[39.7,2.3],[40.4,17.7],[41.1,2.4],[42.2,13],[44.5,27.7],[45.2,28],[45.9,22.8],[47.3,14.9],[47.9,24.4],[49.3,19.7],[50,22.8],[51.4,22.1],[52.1,13.8],[53.4,14.9],[54.1,21],[55.9,13.4],[57.8,27.7],[58.9,16.4],[59.6,22.1],[60.3,13],[60.5,23.2],[61,2.5],[61.6,17.9],[62.3,16.8],[63,22.5],[63.7,11.5],[64.4,14.4],[65.5,31.7],[65.8,3.4],[66.4,17.9],[67.1,14.5],[67.8,21.7],[68.2,26.6],[68.8,29.2],[69.6,21],[70.1,3],[70.5,31.3],[71,2.8],[71.2,24.5],[71.9,22.8],[72.6,29],[72.9,14.2],[73.7,23.9],[74.2,22.5],[74.7,29],[75.3,14.2],[76,23.2],[76.4,19.1],[77,26.2],[77.8,14.2],[78.4,23.9],[78.8,17.2],[79.5,22.5],[80.1,23.9],[80.8,29.2],[81.5,21.7],[82.2,29.8],[82.9,16.8],[83.6,22.8],[84.2,20.2],[84.9,13.4],[85.6,22.5],[86.3,27.4],[87,22.8],[87.7,13],[88.4,25.1],[89,17.2],[89.7,2.3],[90.1,12.6],[90.7,2.8],[91.5,18.3],[92.1,13.4],[92.5,28.5],[93.2,15.7],[93.8,28.1],[94.2,15.4],[94.5,19.7],[95.2,25.3],[95.6,13],[96.2,14.9],[96.6,23.2],[97,2.1],[97.3,16.4],[97.9,28.5],[98.4,13],[98.9,21.7],[99.7,23.6],[100,2.5],[100.7,13.4],[101.1,22.5],[101.6,14.2],[102.1,16.8],[102.7,15.1],[103.4,26],[103.8,21.9],[104.4,16.4],[104.8,12.6],[105.5,24.3],[105.9,30.8],[106.6,21.7],[106.8,15.3],[107.5,21],[108.2,17.5],[108.9,26.2],[109.6,2.8],[109.9,31.1],[110.7,22.5],[111.2,16.6],[112.1,14.5],[112.6,13.8],[113.7,17.5],[114.4,16.4],[115.1,14.5],[115.8,3.6],[116.4,14.5],[117.1,4],[117.8,16.8],[118.5,14.5],[119.5,14.2],[119.9,30.5],[120.3,14.5],[120.8,16.4],[121.6,17.2],[123,19.4],[123.6,22.8],[124.7,14.9],[126.7,24.7],[128.8,21.5],[129.9,30],[131.5,21.7],[132.9,22.1],[134.9,22.2],[135.6,29.5],[137,22.5],[139.7,2.3],[141.1,23.4],[141.8,21.7],[143.2,11.9],[144.5,16.8],[145,14.5],[145.2,21.5],[149.3,30.8],[149.6,2.3],[152.1,14.2],[154.1,22.5],[154.8,16.9],[155.5,24.3],[157.3,30.4],[157.5,22.5],[158.2,17.5],[159.2,1.7],[160,24.3],[160.3,28.5],[167.1,17.9],[167.8,15.7],[168.5,16.8],[169.6,13.8],[170.5,16.6],[179.5,29]];

const jakBlueC = [[2.7,8.1],[4.1,7.1],[5.5,8.6],[6.8,7.6],[8.2,8.4],[9.6,9],[11,8.1],[12.3,8.6],[13.7,7.6],[15.1,9],[16.4,8.1],[17.8,8.8],[19.2,7.8],[20.5,9],[21.9,8.4],[23.3,7.1],[24.7,9.5],[26,8.1],[26.7,6.7],[27.4,9],[28.8,8.4],[30.1,9.3],[31.5,8.6],[32.9,9.5],[34.2,8.4],[35.6,9.3],[37,8.8],[38.4,9.7],[39.7,8.4],[41.1,9.3],[42.5,8.6],[43.8,9.7],[45.2,7.1],[46.6,9],[47.9,9.5],[49.3,8.4],[50.7,9.5],[52.1,8.8],[53.4,9.7],[54.8,8.6],[56.2,9.5],[57.5,8.8],[58.9,9.7],[60.3,9],[61.6,10],[63,8.8],[64.4,9.7],[65.8,9],[67.1,10],[68.5,9],[69.9,9.7],[71.2,8.8],[72.6,9.5],[74,8.6],[75.3,9.5],[76.7,8.8],[78.1,9.7],[79.5,8.6],[80.8,9.5],[82.2,8.4],[83.6,9.3],[84.9,8.1],[86.3,9],[87.7,8.1],[89,9],[90.4,7.6],[91.8,8.8],[93.2,8.1],[94.5,9],[95.9,7.8],[97.3,8.8],[98.6,8.1],[100,9],[101.4,8.4],[102.7,9.3],[104.1,8.6],[105.5,9.5],[106.8,8.8],[108.2,9.7],[109.6,8.8],[111,9.5],[112.3,9],[113.7,9.7],[115.1,9],[116.4,9.7],[117.8,9.3],[119.2,10],[120.5,9],[121.9,9.7],[123.3,9.3],[125.3,9.7],[127.4,9.3],[130.1,8.8],[132.9,8.1],[135.6,7.1],[138.4,8.4],[141.1,9],[144.5,8.4],[147.3,8.8],[150,9],[152.1,9.3],[154.8,9],[156.8,9.7],[158.9,9.3],[161,9.5],[163,9],[165.8,9.3],[168.5,9],[170.5,9.5],[172.6,9],[174,9.3],[179.7,8.1],
  [3.5,7.8],[7.5,7.4],[10,7.9],[14.5,7.9],[18.5,7.4],[22.6,7.6],[25.3,7.9],[29.5,7.7],[33.5,7.9],[36.3,8.2],[40.4,8.0],[44.5,8.3],[48.6,8.1],[53,8.5],[57,8.4],[61,8.6],[65,8.4],[69,8.5],[73,8.3],[77,8.5],[81,8.4],[85,8.6],[89,8.3],[93,8.6],[97,8.2],[101,8.6],[105,8.5],[109,8.4],[113,8.6],[117,8.5],[121,8.3],
  [1,8.5],[2,7.5],[3.2,8.9],[5,7.3],[6.3,8.2],[7.8,8.8],[9,7.6],[10.6,8.3],[12,7.4],[13.2,8.9],[14,7.3],[15.6,8.4],[17,7.5],[18,8.3],[19.7,8.9],[21,7.7],[22,8.9],[23.8,8.2],[25,7.4],[26.3,8.8],[27.9,7.9],[29,8.9],[30.6,7.5],[31.9,8.9],[33,7.8],[34.6,9.1],[36,7.8],[37.5,9.2],[38.9,8.0],[40,9.2],[41.6,7.9],[43,9.1],[44,8.3],[45.8,9.3],[47,8.2],[48.2,9.2],[49.8,7.9],[51.2,9.1],[52.6,8.1],[54,9.3],[55.4,8.2],[56.8,9.2],[58.2,8.1],[59.6,9.3],[61,8.3],[62.3,9.2],[63.6,8.1],[65,9.5],[66.5,8.4],[67.8,9.4],[69.2,8.2],[70.5,9.3],[71.9,8.4],[73.3,9.2],[74.6,8.2],[76,9.3],[77.4,8.3],[78.8,9.2],[80.1,8.1],[81.5,9.1],[82.9,8.1],[84.2,9.2],[85.6,7.9],[87,9.0],[88.3,7.9],[89.7,8.9],[91.1,8.1],[92.5,9.0],[93.8,8.0],[95.2,9.1],[96.6,8.1],[98,9.1],[99.3,8.3],[100.7,9.2],[102,8.2],[103.4,9.2],[104.8,8.3],[106.2,9.3],[107.5,8.3],[108.9,9.2],[110.3,8.4],[111.7,9.3],[113,8.4],[114.4,9.3],[115.8,8.5],[117.1,9.4],[118.5,8.6],[120,9.4],[121.3,8.6],[122.6,9.5],[124,8.7],[126.2,8.9],[128,8.5],[129.2,9.3],[133.9,8.9],[137,8.6],[139.8,8.1],[143,8.9],[145.8,8.3],[149,9.4],[151,8.3],[153.6,9.5],[155.8,8.6],[157.8,9.1],[160,8.7],[162,9.4],[164.4,8.5],[167,9.6],[169.5,8.5],[171.6,9.3],[173.2,8.6]];

const jakRedC = [[0.7,37.6],[20.8,39.2],[30.8,38.9],[40.8,38.3],[71,37.4],[80.8,38.9],[100.7,41.1],[120.8,40.7],[21.9,18.1],[52.1,18.3],[71.9,19.2],[81.9,18.6],[101.8,19.8],[161.6,18.9],[65.8,15.7],
  [2.1,11.9],[2.5,5.2],[3.4,4.8],[4.4,9.5],[5.2,5.5],[6.2,11.4],[7.1,12.4],[7.9,6.7],[8.9,10],[9.9,13.3],[10.7,15.2],[11.2,11.4],[12.3,6.5],[13,14.8],[14,11],[14.8,5.2],[15.3,8.1],[16.2,10.7],[16.7,3.3],[17.5,4.8],[18.1,13.3],[18.5,7.1],[19.2,12.9],[19.9,5.5],[20.3,12.4],[20.8,9.5],[21.2,6.2],[21.9,11.9],[22.2,4.3],[23,7.6],[23.3,12.9],[24,5.2],[24.4,10.5],[24.9,13.3],[25.3,4],[26,6.7],[26.7,11],[27.1,4.8],[27.7,12.9],[28.5,8.6],[28.8,5.2],[29.5,13.3],[30.1,9.5],[30.8,5.7],[31.2,11.9],[32.2,7.1],[32.9,4.3],[33.6,10.5],[34.2,12.4],[34.9,5.7],[35.6,8.1],[36.7,12.9],[37.3,5.2],[38.1,11],[38.6,13.3],[39.5,7.6],[40.4,4.6],[41.1,6.2],[41.8,12.4],[42.5,10],[43.6,4.3],[44.5,14.3],[45.2,7.1],[45.9,13.5],[46.6,5.2],[47.3,7.6],[47.9,11.4],[49,4.8],[50,9.5],[51,12.9],[52.1,7.1],[53.2,5.7],[54.1,10.5],[55.1,4.8],[56.2,8.6],[57.3,11.4],[58.2,5.2],[59.2,6.7],[60,10],[60.5,4.8],[61.4,8.1],[62.3,5.7],[63,10.5],[63.7,13.3],[64.4,6.7],[65.1,11.9],[65.8,4.6],[66.4,12.9],[67.1,8.1],[67.8,14.3],[68.5,5.7],[68.8,10.5],[69.6,15],[69.9,7.1],[70.5,4.3],[71,11.9],[71.5,6.2],[72.3,8.6],[72.6,14.3],[73.3,5.2],[73.7,11.4],[74.2,7.6],[74.7,12.9],[75.3,4.8],[75.6,9.5],[76.4,6.2],[76.7,12.4],[77.4,8.1],[77.8,4.3],[78.4,11],[78.8,6.7],[79.5,13.3],[79.7,5.2],[80.5,10],[80.8,7.1],[81.5,14.3],[81.9,4.8],[82.5,11.4],[82.9,8.1],[83.6,12.9],[83.8,5.9],[84.7,9.5],[85.2,4.8],[85.6,14.8],[86.3,7.1],[87,11.4],[87.4,4.3],[88,8.6],[88.4,13.3],[89,6.2],[89.7,10.5],[90.1,5.2],[90.7,8.1],[91.5,12.4],[92.1,4.8],[92.5,14.8],[93.2,7.1],[93.4,10.5],[94.2,5.7],[94.5,12.9],[95.2,9],[95.6,4.3],[96.2,11.4],[97,6.7],[97.3,13.5],[97.9,8.1],[98.4,5.2],[98.9,11.9],[99.3,3.8],[100,7.6],[100.7,10.5],[101.1,5.7],[101.6,12.9],[102.1,8.6],[102.7,4.8],[103,11],[103.8,6.7],[104.1,13.8],[104.8,5.7],[105.2,9.5],[105.8,12.4],[106.2,4.8],[106.8,8.1],[107.5,14.8],[107.9,6.2],[108.5,11.4],[108.9,4.3],[109.6,7.6],[110.3,13.3],[110.7,5.2],[111.2,10],[111.6,14.3],[112.3,6.7],[113,11.4],[113.4,4.8],[114,8.1],[114.8,6.2],[115.1,11.9],[115.8,5.2],[116.4,7.6],[117.1,12.9],[117.8,5.7],[118.5,7.1],[119.2,13.3],[119.9,6.7],[120.5,8.1],[121.2,9.5],[122.2,6.7],[123.3,8.1],[124,11],[124.7,10],[126,12.9],[127.4,10.5],[128.1,14.3],[129.9,8.6],[130.8,11.9],[132.2,7.6],[134.2,6.9],[136.3,13.3],[137.7,8.1],[141.1,5.7],[141.8,4.8],[143.8,6.7],[145.9,8.1],[147.3,13.3],[148.6,14.8],[149.3,5.7],[150,14.8],[150.7,8.1],[152.1,7.1],[153.4,13.1],[154.8,5.7],[155.5,9],[156.2,10],[156.8,11.4],[157.5,15.7],[158.2,6.2],[158.6,12.4],[159.6,5.7],[161,5.2],[161.9,14.3],[162.3,12.9],[162.7,4.6],[167.1,8.1],[168.5,7.6],[169.6,6.7],[170.5,8.1],[171.9,7.1],[173.3,9],[179.5,14.3],
  [1.5,7.2],[3,9.8],[4,12.6],[5.8,6.3],[6.6,8.9],[8.5,5.9],[9.3,11.7],[10.2,7.4],[11.6,9.2],[12.8,4.9],[13.5,12.1],[14.4,8.3],[15.7,6.0],[16.9,11.3],[17.9,9.6],[18.8,5.3],[19.6,8.7],[20.6,13.6],[21.5,7.9],[22.6,10.2],[23.7,5.8],[24.6,8.4],[25.6,11.8],[26.4,6.4],[27.4,9.1],[28.2,13.9],[29.1,7.3],[29.8,10.9],[30.5,4.6],[31.6,8.8],[32.5,12.3],[33.3,6.9],[34.6,9.9],[35.3,4.4],[36.1,10.8],[37,7.0],[37.8,13.7],[38.9,9.0],[39.9,5.6],[40.9,11.2],[41.6,8.4],[42.9,6.2],[43.4,12.7],[44.2,9.4],[45.6,5.1],[46.3,10.9],[47.6,8.9],[48.4,6.6],[49.6,13.4],[50.5,7.5],[51.6,10.1],[52.6,4.7],[53.7,12.2],[54.5,8.0],[55.6,6.3],[56.7,10.8],[57.8,7.9],[58.7,13.1],[59.6,4.5],[60.2,8.7],[61.1,11.6],[61.9,6.9],[62.7,9.3],[63.4,4.9],[64.1,11.0],[64.9,8.2],[65.5,13.9],[66.1,6.0],[66.9,10.3],[67.5,4.6],[68.2,8.9],[68.9,12.6],[69.4,5.5],[70.2,9.8],[70.8,7.4],[71.7,13.0],[72.1,5.0],[72.9,10.7],[73.5,7.9],[74.1,13.6],[74.9,6.1],[75.5,11.1],[76.1,4.5],[76.9,9.2],[77.6,12.8],[78.1,6.8],[78.6,10.2],[79.2,4.9],[79.9,8.3],[80.3,12.0],[81.1,5.6],[81.7,9.8],[82.2,13.1],[82.7,6.4],[83.2,10.6],[84,4.6],[84.5,8.6],[85,12.7],[85.9,6.5],[86.6,10.0],[87.2,5.4],[87.9,12.1],[88.6,7.7],[89.3,11.3],[89.9,4.4],[90.4,9.3],[91.2,6.8],[91.8,13.9],[92.3,9.9],[92.8,5.3],[93.6,11.8],[94.4,8.0],[94.9,4.7],[95.4,12.2],[96,7.1],[96.8,10.0],[97.6,4.8],[98.1,9.6],[98.6,12.9],[99.5,6.2],[100.2,11.3],[100.9,8.7],[101.4,4.4],[102.3,10.0],[102.9,6.6],[103.6,12.1],[104.3,8.8],[105,5.0],[105.5,10.9],[106,7.4],[106.6,13.5],[107.2,5.9],[107.7,9.7],[108.3,4.5],[108.7,12.6],[109.2,8.5],[109.8,5.5],[110.5,10.8],[111,7.7],[111.8,4.8],[112.6,12.0],[113.2,9.0],[113.8,5.9],[114.5,10.5],[115.4,7.1],[116,13.0],[116.8,8.9],[117.5,4.6],[118.2,10.9],[118.8,8.3],[119.6,5.1],[120.2,11.6],[121,7.5],[121.8,4.7],[122.6,10.4],[123.8,6.4],[124.5,12.8],[125.5,7.8],[126.5,5.2],[127.8,9.0],[128.6,6.3],[129.4,11.2],[131,9.3],[131.6,5.3],[133,10.1],[133.8,4.8],[135.1,8.8],[136.9,10.9],[138.6,5.6],[140.2,7.9],[142.5,10.2],[144.6,6.3],[146.3,9.7],[147.9,5.4],[150.4,11.2],[151.3,5.6],[153.9,8.6],[155.9,7.1],[156.6,4.9],[157.9,12.8],[159.2,8.9],[160.4,5.7],[161.2,10.6],[163.5,8.3],[167.7,9.9],[168.9,5.4],[170.9,7.9],[172.4,5.9],[173.8,6.8]];

const jakBlueD = [[12.1,4.26],[13,3.47],[14.8,4.42],[16.2,5.05],[17.5,3.79],[18.5,5.94],[19.2,4.26],[20.3,4.74],[21.2,3.79],[22.2,4.58],[23.3,4.89],[24.4,4.42],[25.3,4.8],[26.3,3],[27.4,4.74],[28.5,4.26],[29.5,4.89],[30.4,4.58],[31.5,4.8],[32.6,4.42],[33.6,4.74],[34.5,4.99],[35.6,4.58],[36.7,4.89],[37.7,5.43],[38.6,4.67],[39.7,4.99],[40.8,4.58],[41.8,4.89],[42.7,4.1],[43.8,4.74],[44.9,4.99],[45.9,4.58],[46.8,2.78],[47.9,4.89],[49,4.67],[50,4.99],[51,4.58],[52.1,4.89],[53.2,4.1],[54.1,5.05],[55.1,4.67],[56.2,4.89],[57.3,5.12],[58.2,4.74],[59.2,4.99],[60.3,3.85],[61.4,4.89],[62.3,5.12],[63.3,4.74],[64.4,4.99],[65.5,5.21],[66.4,4.8],[67.4,5.05],[68.5,4.67],[69.6,4.04],[70.5,5.62],[71.5,4.89],[72.6,5.12],[73.7,4.74],[74.7,4.99],[75.6,5.21],[76.7,4.8],[77.8,5.05],[78.8,4.67],[79.7,5.12],[80.8,4.89],[81.9,4.58],[82.9,4.99],[83.8,4.74],[84.9,4.42],[86,4.89],[87,4.17],[87.9,4.74],[89,4.48],[90.1,4.89],[91.1,4.58],[92.1,3],[93.2,4.42],[94.2,4.74],[95.2,2.68],[96.2,4.58],[97.3,4.89],[98.4,4.42],[99.3,4.67],[100.3,5.43],[101.1,4.89],[102.1,4.48],[103,4.74],[104.1,4.26],[105.2,4.58],[106.2,4.89],[107.1,4.48],[108.2,4.74],[109.3,4.42],[110.3,4.8],[111.2,4.58],[112.1,5.43],[113,4.48],[114,4.74],[115.1,4.42],[116.2,4.8],[117.1,3.85],[118.1,4.58],[119.2,4.89],[120.3,4.67],[121.2,4.42],[122.2,4.89],[123.3,5.12],[124.4,4.74],[125.8,4.89],[129.9,3.63],[131.8,4.58],[135.6,4.42],[137,3.47],[142.5,4.58],[148.6,3.63],[149.3,4.8],[152.1,4.1],[153.2,3.22],[154.8,4.89],[155.5,4.26],[157.5,5.05],[158.6,4.1],[161.6,3.73],[162.3,4.42],[169.2,3.79],[171,3.54],[172.6,3.95],[179.5,2.68],
  [30,4.65],[40,4.7],[50,4.8],[60,4.75],[70,4.85],[80,4.8],[90,4.75],[100,4.7],[110,4.65],[120,4.8],[35,4.7],[45,4.75],[55,4.8],[65,4.9],[75,4.85],[85,4.7],[95,4.6],[105,4.7],[115,4.65],
  [13.5,4.5],[15.5,4.7],[17,4.3],[18,4.8],[19.8,4.5],[21.6,4.9],[23,4.4],[24.8,4.7],[26.8,4.5],[28,4.9],[29,4.4],[31,4.6],[32.2,4.9],[33.2,4.5],[34.2,4.7],[36.3,4.6],[37.3,4.9],[38.2,4.4],[39.3,4.8],[41.3,4.7],[42.3,5.0],[43.3,4.5],[44.5,4.8],[46.3,4.6],[47.5,5.0],[48.6,4.6],[49.6,4.9],[51.6,4.7],[52.6,5.0],[53.7,4.6],[55.6,4.8],[56.6,5.0],[57.8,4.6],[58.7,4.9],[59.8,4.6],[61,5.0],[62,4.7],[62.9,5.0],[64,4.7],[65,5.0],[66,4.6],[67,4.9],[68,4.7],[69,5.0],[70,4.7],[71,5.1],[72,4.7],[73,4.9],[74.2,4.7],[75.2,5.0],[76.2,4.6],[77.3,4.9],[78.3,4.6],[79.3,5.0],[80.3,4.7],[81.3,4.9],[82.4,4.6],[83.4,4.9],[84.4,4.6],[85.5,4.9],[86.5,4.5],[87.5,4.8],[88.5,4.5],[89.5,4.8],[90.6,4.6],[91.6,4.9],[92.6,4.5],[93.7,4.8],[94.7,4.5],[95.7,4.8],[96.7,4.5],[97.8,4.7],[98.8,4.5],[99.8,4.8],[100.8,4.6],[101.6,4.7],[102.6,4.5],[103.6,4.9],[104.6,4.5],[105.7,4.7],[106.7,4.5],[107.7,4.8],[108.7,4.6],[109.8,4.9],[110.8,4.5],[111.8,4.7],[112.6,4.5],[113.5,4.8],[114.5,4.6],[115.6,4.8],[116.6,4.5],[117.6,4.7],[118.6,4.6],[119.7,4.9],[121.7,4.7],[124.8,4.6],[143.7,4.5],[147,4.2],[153.8,4.4],[157,4.6],[163.3,4.3],[170.2,4.1]];

const jakRedD = [[0.7,9.2],[3,3.3],[3,2.8],[7.9,4.8],[20.8,11.05],[30.8,12.15],[40.8,11.05],[71,11],[80.8,11.75],[100.7,11.4],[120.8,12.7],[73.7,0.16],[19.9,1.5],[64.1,1.5],[103.8,1.58],
  [12.1,3.85],[13,3.79],[13.7,3.3],[14.8,4.48],[15.8,4.1],[16.7,3.16],[17.5,5.05],[17.8,6.3],[18.5,3.47],[19.2,2.5],[19.9,4.26],[20.5,5.21],[21.2,3.16],[21.9,4.74],[22.6,3.79],[23,5.37],[23.6,3],[24.4,4.42],[24.9,5.53],[25.8,3.3],[26.3,4.1],[26.7,5.05],[27.4,2.21],[28.1,3.47],[28.8,4.74],[29.5,5.53],[29.9,3],[30.4,4.1],[31.2,5.21],[31.8,2.37],[32.2,3.47],[32.9,4.58],[33.6,5.43],[34,3.16],[34.5,4.1],[35.3,4.89],[35.9,3.3],[36.7,4.42],[37.3,5.37],[38.1,3.63],[38.6,4.74],[39.5,3],[39.7,5.68],[40.4,3.95],[41.1,4.58],[41.8,3.3],[42.5,5.12],[43.2,3.79],[43.8,4.42],[44.5,3.16],[45.2,5.43],[45.9,4.04],[46.6,4.74],[47.3,3.63],[47.7,6.16],[48.2,4.26],[49,5.53],[49.6,3.3],[50.4,4.58],[51,3.79],[51.4,6.25],[52.1,3],[52.7,5.05],[53.4,4.1],[54.1,5.84],[54.8,3.47],[55.5,4.58],[56.2,3.16],[56.8,5.37],[57.5,3.95],[58.2,4.74],[58.9,6],[59.6,3.16],[60.3,4.26],[61,3.63],[61.6,2.53],[62.3,4.89],[63,3.85],[63.7,5.53],[64.7,3.3],[65.5,7.1],[65.8,4.48],[66.4,3],[67.1,5.68],[67.8,3.95],[68.5,5.05],[69.2,2.84],[69.9,4.42],[70.1,7.1],[70.5,3.54],[71.2,5.37],[71.9,6.57],[72.3,3],[72.9,4.26],[73.7,4.89],[74.2,3.63],[74.7,5.68],[75.3,3.16],[76,4.42],[76.7,6.16],[77,3.47],[77.8,4.89],[78.4,3.95],[78.8,6.47],[79.5,2.68],[80.1,5.37],[80.8,4.1],[81.5,3.16],[81.9,5.68],[82.5,4.42],[83.3,6.32],[83.6,3.47],[84.2,4.89],[84.9,4.1],[85.6,5.53],[86,3],[86.6,4.58],[87.4,5.84],[87.7,3.63],[88.4,5.05],[88.8,3.16],[89.3,4.42],[89.7,6.16],[90.4,3.79],[90.7,2.53],[91.5,5.21],[92.1,4.26],[92.5,6],[92.9,3.3],[93.4,4.89],[93.8,2.21],[94.2,3.95],[94.5,6.32],[95.2,3],[95.6,4.58],[96.2,5.62],[96.6,3.47],[97,4.42],[97.5,6.47],[97.9,2.68],[98.4,5.05],[98.9,3.85],[99.3,5.68],[100,3.16],[100.3,4.58],[101.1,6],[101.4,3.63],[102.1,4.89],[102.5,2.84],[103,5.43],[103.4,4.1],[104.1,6.25],[104.4,3.3],[105.2,4.58],[105.8,5.37],[106.2,3.16],[106.6,6.63],[107.1,4.26],[107.5,3.63],[108.2,5.62],[108.9,3],[109.3,4.74],[109.9,3.95],[110.7,6],[110.9,3.3],[111.6,5.05],[112.3,4.26],[113,2.37],[113.4,5.53],[114,3.79],[114.8,4.58],[115.1,5.05],[115.8,3.47],[116.4,4.26],[117.1,4.89],[117.8,3.3],[118.9,5.21],[119.9,3.79],[120.5,4.42],[121.2,3.47],[121.9,2.84],[123.3,5.3],[124,5.62],[124.7,4.74],[126,6],[127.4,4.42],[130.1,4.42],[131.5,4.26],[132.9,3.63],[134.5,5.3],[135.3,4.89],[137.7,3.79],[139.7,2.37],[141.1,3.85],[145.9,4.26],[147.3,4.74],[149.3,3.3],[150,3],[151.5,3.95],[152.5,5.43],[153.2,4.89],[154.1,3.47],[154.8,4.74],[155.5,3.95],[156.2,2.84],[157.5,4.42],[158.2,5.05],[159.2,3.16],[160.3,3.79],[161.4,3],[162.1,4.58],[167.1,4.58],[167.8,4.1],[168.5,3.47],[169.2,4.74],[169.9,3.3],[171.5,4.26],[172.3,3.63],[172.9,3.16],
  [12.5,4.6],[13.8,5.2],[15.2,3.6],[16,4.6],[17,2.9],[18.2,4.2],[19.5,5.5],[20.1,3.6],[21.5,4.3],[22.3,5.8],[23.2,4.0],[24,3.4],[25.2,4.9],[26,3.8],[27,4.4],[27.9,5.7],[28.4,4.0],[29.2,3.3],[30,4.7],[31,3.7],[31.5,5.9],[32.5,4.2],[33.2,3.2],[33.9,4.9],[34.8,3.6],[35.6,5.6],[36.2,3.9],[37,4.5],[37.8,3.1],[38.4,5.1],[39.1,4.0],[40,3.5],[40.7,5.3],[41.5,4.1],[42.1,3.4],[42.9,4.6],[43.5,5.9],[44.1,3.8],[44.8,4.9],[45.5,3.3],[46.3,5.5],[46.9,4.0],[47.5,3.0],[48.5,4.8],[49.3,3.7],[50,5.9],[50.7,4.2],[51.6,3.2],[52.4,4.5],[53,5.7],[53.7,3.6],[54.4,4.9],[55.2,3.9],[55.9,5.4],[56.5,4.2],[57.2,3.1],[57.8,4.7],[58.5,3.6],[59.3,5.2],[60,3.4],[60.6,4.8],[61.3,5.9],[62,3.9],[62.7,4.4],[63.4,3.2],[64,5.1],[64.4,4.0],[65.1,3.6],[65.6,5.6],[66.2,4.2],[66.8,3.4],[67.5,4.9],[68.1,3.8],[68.8,6.1],[69.5,4.1],[70,3.3],[70.8,4.7],[71.5,3.9],[72.2,5.5],[72.6,3.5],[73.3,4.4],[74,5.9],[74.5,3.2],[75,4.6],[75.7,3.7],[76.3,5.3],[77.3,4.2],[78,3.4],[78.6,5.7],[79.2,3.9],[79.8,4.6],[80.4,3.3],[81.1,5.1],[81.7,4.0],[82.2,3.6],[82.8,5.6],[83.5,4.3],[84,3.2],[84.6,5.0],[85.3,3.8],[85.8,4.4],[86.3,6.0],[86.9,3.5],[87.6,4.7],[88.2,3.9],[88.6,5.4],[89.5,3.4],[90,4.6],[90.9,3.9],[91.3,5.6],[91.9,3.2],[92.7,4.5],[93.1,3.7],[93.6,5.3],[94,4.1],[94.8,3.6],[95.4,5.9],[95.9,3.9],[96.4,4.4],[96.9,3.1],[97.7,5.2],[98.1,4.0],[98.6,3.5],[99.6,4.7],[100.1,3.8],[100.5,5.4],[101.3,4.2],[101.8,3.3],[102.3,5.7],[102.8,4.0],[103.2,3.5],[103.7,4.8],[104.6,3.9],[105,5.6],[105.5,3.4],[106,4.6],[106.9,3.8],[107.3,5.2],[107.8,4.3],[108.5,3.3],[109.1,5.8],[109.6,4.0],[110.1,3.5],[110.5,4.9],[111.3,3.9],[111.9,5.5],[112.6,3.6],[113.2,4.7],[113.7,3.2],[114.5,5.1],[115.4,4.0],[116.1,3.5],[116.8,5.6],[117.5,4.1],[118.3,3.6],[119,4.6],[119.6,5.5],[120.3,3.9],[121.5,4.4],[122.5,3.6],[123,4.9],[125,3.8],[125.5,4.5],[127,3.4],[129,4.0],[133.5,4.2],[136.5,3.6],[138.5,4.5],[143,3.5],[146.5,3.9],[148,3.1],[151,4.4],[153.8,3.6],[155,5.2],[156.8,3.8],[158.8,4.4],[160.8,3.3],[162.5,3.8],[167.4,3.2],[168.8,4.9],[170.5,3.8],[172,4.5]];

const yLabel = 'Velocity [m d\u207B\u00B9]';
const FONT = '"DejaVu Sans", sans-serif';
const RED = '#d62728', BLUE = '#1f77b4', MEAN = '#333333', GRID = '#b0b0b0';

const panelPlugin = {
  id: 'panelDeco',
  beforeDatasetDraw(chart, args) {
    // grid sits above the scatter points but under the mean line
    if (args.index !== 0) return;
    const { ctx, chartArea: a, scales } = chart;
    ctx.save();
    ctx.strokeStyle = GRID;
    ctx.lineWidth = 1.3;
    ctx.beginPath();
    scales.x.ticks.forEach(t => {
      const x = Math.round(scales.x.getPixelForValue(t.value)) + 0.5;
      ctx.moveTo(x, a.top); ctx.lineTo(x, a.bottom);
    });
    scales.y.ticks.forEach(t => {
      const y = Math.round(scales.y.getPixelForValue(t.value)) + 0.5;
      ctx.moveTo(a.left, y); ctx.lineTo(a.right, y);
    });
    ctx.stroke();
    ctx.restore();
  },
  afterDraw(chart) {
    const { ctx, chartArea: a } = chart;
    const o = chart.options.plugins.panelDeco;
    ctx.save();
    ctx.strokeStyle = '#000';
    ctx.lineWidth = 1.3;
    ctx.strokeRect(a.left, a.top, a.right - a.left, a.bottom - a.top);
    ctx.fillStyle = '#000';
    ctx.font = '18px ' + FONT;
    ctx.textAlign = 'left';
    ctx.textBaseline = 'alphabetic';
    ctx.fillText(o.tag, a.left + 13, a.top + 24);
    if (o.ylabel) {
      ctx.translate(o.ylabelX, (a.top + a.bottom) / 2);
      ctx.rotate(-Math.PI / 2);
      ctx.textAlign = 'center';
      ctx.textBaseline = 'middle';
      ctx.fillText(o.ylabel, 0, 0);
    }
    ctx.restore();
  }
};

function toPoints(xs, ys) {
  return xs.map((x, i) => ({ x: x, y: ys[i] }));
}

function makePanel(p) {
  const c = document.createElement('canvas');
  c.width = p.cw; c.height = p.ch;
  c.style.left = p.cx + 'px';
  c.style.top = p.cy + 'px';
  document.body.appendChild(c);
  new Chart(c, {
    type: 'scatter',
    data: {
      datasets: [
        { type: 'line', data: toPoints(p.meanX, p.meanY), borderColor: MEAN, borderWidth: 1, backgroundColor: MEAN,
          pointStyle: 'rectRot', pointRadius: 4.6, pointBorderWidth: 0, pointBackgroundColor: MEAN, fill: false, tension: 0, clip: 0 },
        { data: p.blue, backgroundColor: BLUE, borderWidth: 0, pointRadius: 2.4, clip: 0 },
        { data: p.red, backgroundColor: RED, borderWidth: 0, pointRadius: 2.4, clip: 0 }
      ]
    },
    options: {
      responsive: false,
      animation: false,
      events: [],
      layout: { padding: { left: 0, top: 12, right: p.padR, bottom: p.padB } },
      plugins: {
        legend: { display: false },
        tooltip: { enabled: false },
        panelDeco: { tag: p.tag, ylabel: p.ylabel, ylabelX: 33 }
      },
      scales: {
        x: {
          type: 'linear', min: 0, max: 184,
          afterBuildTicks: s => { s.ticks = monthTicks.map(v => ({ value: v })); },
          afterFit: s => { s.height = p.xh; s.paddingLeft = 0; s.paddingRight = 0; },
          border: { display: false },
          grid: { color: 'rgba(0,0,0,0)', tickColor: '#000', tickLength: 6, tickWidth: 1.3 },
          ticks: {
            display: p.showX, autoSkip: false, minRotation: 90, maxRotation: 90, padding: 4,
            color: '#000', font: { family: FONT, size: 18 },
            callback: v => monthLabels[monthTicks.indexOf(v)]
          }
        },
        y: {
          min: p.yMin, max: p.yMax,
          afterBuildTicks: s => { s.ticks = p.yTicks.map(v => ({ value: v })); },
          afterFit: s => { s.width = p.yw; s.paddingTop = 0; s.paddingBottom = 0; },
          border: { display: false },
          grid: { color: 'rgba(0,0,0,0)', tickColor: '#000', tickLength: 6, tickWidth: 1.3 },
          ticks: { padding: 5, color: '#000', font: { family: FONT, size: 18 }, callback: v => String(v) }
        }
      }
    },
    plugins: [panelPlugin]
  });
}

const rowTops = [47, 220, 394, 567];
const PH = 140;

const storePanels = [
  { tag: '(a)', red: storeRedA, blue: storeBlueA, meanX: storeMeanDaysA, meanY: storeMeanA, yMin: 7.3, yMax: 14.6, yTicks: [8, 10, 12, 14] },
  { tag: '(b)', red: storeRedB, blue: storeBlueB, meanX: storeMeanDaysA, meanY: storeMeanB, yMin: 2.45, yMax: 7.17, yTicks: [3, 4, 5, 6, 7] },
  { tag: '(c)', red: storeRedC, blue: storeBlueC, meanX: storeMeanDaysC, meanY: storeMeanC, yMin: 1.09, yMax: 5.0, yTicks: [2, 3, 4, 5] },
  { tag: '(d)', red: storeRedD, blue: storeBlueD, meanX: storeMeanDaysD, meanY: storeMeanD, yMin: -0.02, yMax: 2.72, yTicks: [0, 1, 2] }
];
const jakPanels = [
  { tag: '(a)', red: jakRedA, blue: jakBlueA, meanX: jakMeanDays, meanY: jakMeanA, yMin: 8.4, yMax: 41.2, yTicks: [12, 18, 24, 30, 36] },
  { tag: '(b)', red: jakRedB, blue: jakBlueB, meanX: jakMeanDays, meanY: jakMeanB, yMin: 0.6, yMax: 32.8, yTicks: [6, 12, 18, 24, 30] },
  { tag: '(c)', red: jakRedC, blue: jakBlueC, meanX: jakMeanDays, meanY: jakMeanC, yMin: 2.0, yMax: 42.3, yTicks: [8, 16, 24, 32, 40] },
  { tag: '(d)', red: jakRedD, blue: jakBlueD, meanX: jakMeanDaysD, meanY: jakMeanD, yMin: -0.55, yMax: 13.0, yTicks: [0, 3, 6, 9, 12] }
];

storePanels.forEach((sp, i) => {
  const last = i === 3;
  const top = rowTops[i];
  const ch = last ? 800 - (top - 12) : 12 + PH + 14;
  makePanel(Object.assign({}, sp, {
    cx: 0, cy: top - 12, cw: 560, ch: ch, yw: 76, padR: 12,
    xh: last ? ch - 12 - PH : 8, padB: last ? 0 : 6, showX: last, ylabel: yLabel
  }));
});
jakPanels.forEach((jp, i) => {
  const last = i === 3;
  const top = rowTops[i];
  const ch = last ? 800 - (top - 12) : 12 + PH + 14;
  makePanel(Object.assign({}, jp, {
    cx: 520, cy: top - 12, cw: 550, ch: ch, yw: 74, padR: 4,
    xh: last ? ch - 12 - PH : 8, padB: last ? 0 : 6, showX: last, ylabel: null
  }));
});
</script>
</body>
</html>
